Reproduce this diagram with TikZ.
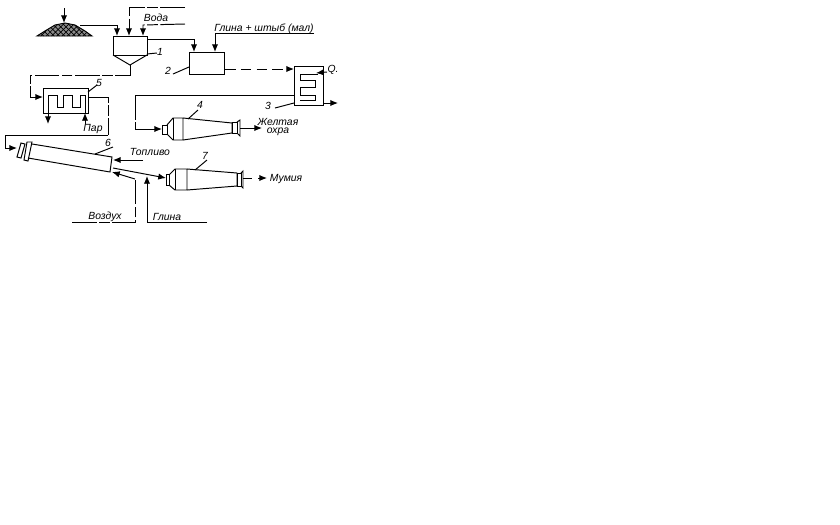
\documentclass[tikz,border=0pt]{standalone}
\usepackage{fontspec}
\setmainfont{Liberation Sans}
\usetikzlibrary{patterns,arrows.meta}
\tikzset{
	every picture/.style={line width=0.55pt},
	every label/.style={font=\fontsize{5.9}{7}\selectfont\itshape,inner sep=0pt},
	flow/.style={-{Latex[length=4.4pt,width=3.6pt]}},
	gapline/.style={dash pattern=on 14pt off 1.5pt on 6pt off 1.5pt},
	apparatus/.style={draw,inner sep=0pt,anchor=north west},
}
\begin{document}
\begin{tikzpicture}[x=0.02cm,y=-0.02cm]
	\useasboundingbox (0,0) rectangle (840,525);
	% pile
	\draw[preaction={fill=black!45},pattern=crosshatch,pattern color=black] (37,36)--(45,31)--(55,25)--(65,23)--(75,25)--(85,31)--(92,36)--cycle;
	\coordinate (feed) at (64,8);
	\coordinate (pile) at (64,23);
	\draw[flow] (feed)--(pile);
	% settler 1
	\coordinate (s1) at (113,36);
	\coordinate (s2) at (147,36);
	\coordinate (s3) at (147,55);
	\coordinate (s4) at (113,55);
	\coordinate (sc) at (130,65);
	\draw (s4)--(s1)--(s2)--(s3)--(s4);
	\draw (s4)--(sc)--(s3);
	\coordinate (a1) at (117,36);
	\coordinate (a2) at (129,36);
	\coordinate (a3) at (143,36);
	\coordinate (pileend) at (80,25);
	\draw[flow] (pileend)--(117,25)--(a1);
	\coordinate (wat1) at (185,7);
	\coordinate (wat2) at (185,24);
	\draw[flow,gapline] (wat1)--(129,7)--(a2);
	\draw[flow,gapline] (wat2)--(143,25)--(a3);
	\coordinate[label=center:{Вода}](voda) at (156,18);
	% box 2
	\node[apparatus,minimum width=0.7cm,minimum height=0.43cm] (mix) at (189,52) {};
	\coordinate (clay) at (314,33);
	\draw[flow] (147,39)--(194,39)--(194,52);
	\draw[flow] (clay)--(215,33)--(215,52);
	\coordinate[label=center:{Глина + штыб (мал)}](claytxt) at (264,29);
	% dryer 3
	\node[apparatus,minimum width=0.58cm,minimum height=0.78cm] (dry) at (294,66) {};
	\draw (318,74)--(300,74)--(300,80)--(315,80)--(315,87)--(300,87)--(300,95)--(315,95)--(315,100)--(300,100);
	\draw[flow,dash pattern=on 6pt off 3pt] (mix.east|-0,69)--(dry.west|-0,69);
	\coordinate (qin) at (327,72);
	\draw[flow] (qin)--(316,73);
	\coordinate[label=center:{Q.}](Q) at (333,70);
	\coordinate (dryout) at (338,103);
	\draw[flow] (dry.east|-0,103)--(dryout);
	% mill 4
	\coordinate (m4in) at (162,129);
	\draw (162,125) rectangle (167,134);
	\draw (167,125)--(173,118)--(183,118)--(183,140)--(173,140)--(167,134);
	\draw (183,118)--(232,123)--(232,133)--(183,140);
	\draw (173,118)--(173,140);
	\draw (232,122) rectangle (237,133);
	\draw (237,122)--(240,120)--(240,136)--(237,133);
	\draw (dry.west|-0,95)--(135,95);
	\draw[gapline] (135,95)--(135,129);
	\draw[flow] (135,129)--(m4in);
	\coordinate (m4out) at (262,128);
	\draw[flow] (240,128)--(m4out);
	\coordinate[label=center:{Желтая}](ochre1) at (278,122);
	\coordinate[label=center:{охра}](ochre2) at (278,132);
	% coil 5
	\node[apparatus,minimum width=0.9cm,minimum height=0.5cm] (coil) at (43,88) {};
	\draw (48,113)--(48,95)--(57,95)--(57,107)--(63,107)--(63,95)--(72,95)--(72,107)--(80,107)--(80,95)--(85,95)--(85,113);
	\draw[gapline] (130,65)--(130,75)--(30,75)--(30,97);
	\draw[flow] (30,97)--(coil.west|-0,97);
	\coordinate (cond) at (48,124);
	\coordinate (steam) at (85,124);
	\draw[flow] (48,113)--(cond);
	\draw[flow] (steam)--(85,113);
	\coordinate[label=center:{Пар}](par) at (93,129);
	% kiln 6
	\draw (21,143)--(17,157)--(21,158)--(25,144)--cycle;
	\draw (27,142)--(24,160)--(28,161)--(32,142)--cycle;
	\draw (32,144)--(112,157)--(110,172)--(28,158);
	\draw[gapline] (coil.east|-0,97)--(108,97)--(108,135);
	\draw (108,135)--(5,135)--(5,148);
	\draw[flow] (5,148)--(17,148);
	\coordinate (fuel) at (143,160);
	\draw[flow] (fuel)--(113,160);
	\coordinate[label=center:{Топливо}](fueltxt) at (150,152);
	% mill 7
	\draw (166,174) rectangle (169,185);
	\draw (169,175)--(175,169)--(187,169)--(187,190)--(175,190)--(169,185);
	\draw (175,169)--(175,190);
	\draw (187,169)--(237,173)--(237,186)--(187,190);
	\draw (237,173) rectangle (241,186);
	\draw (241,173)--(243,171)--(243,188)--(241,186);
	\draw[flow] (113,168)--(166,178);
	\coordinate (mum) at (267,178);
	\draw (243,178)--(252,178);
	\draw[flow] (258,178)--(mum);
	\coordinate[label=center:{Мумия}](mumtxt) at (286,179);
	% air and clay
	\coordinate (air) at (72,222);
	\coordinate (clay2) at (207,222);
	\draw[gapline] (air)--(135,222)--(135,179);
	\draw[flow] (135,179)--(112,172);
	\draw[flow] (clay2)--(147,222)--(147,176);
	\coordinate[label=center:{Воздух}](airtxt) at (105,217);
	\coordinate[label=center:{Глина}](claytxt2) at (167,217);
	% numbers
	\draw (147,54)--(157,53);
	\coordinate[label=center:{1}](n1) at (160,52);
	\draw (173,74)--(189,67);
	\coordinate[label=center:{2}](n2) at (168,71);
	\draw (275,108)--(294,103);
	\coordinate[label=center:{3}](n3) at (268,106);
	\draw (188,119)--(198,110);
	\coordinate[label=center:{4}](n4) at (200,105);
	\draw (88,92)--(97,85);
	\coordinate[label=center:{5}](n5) at (99,83);
	\draw (95,154)--(113,147);
	\coordinate[label=center:{6}](n6) at (108,143);
	\draw (195,170)--(207,160);
	\coordinate[label=center:{7}](n7) at (205,156);
\end{tikzpicture}
\end{document}
